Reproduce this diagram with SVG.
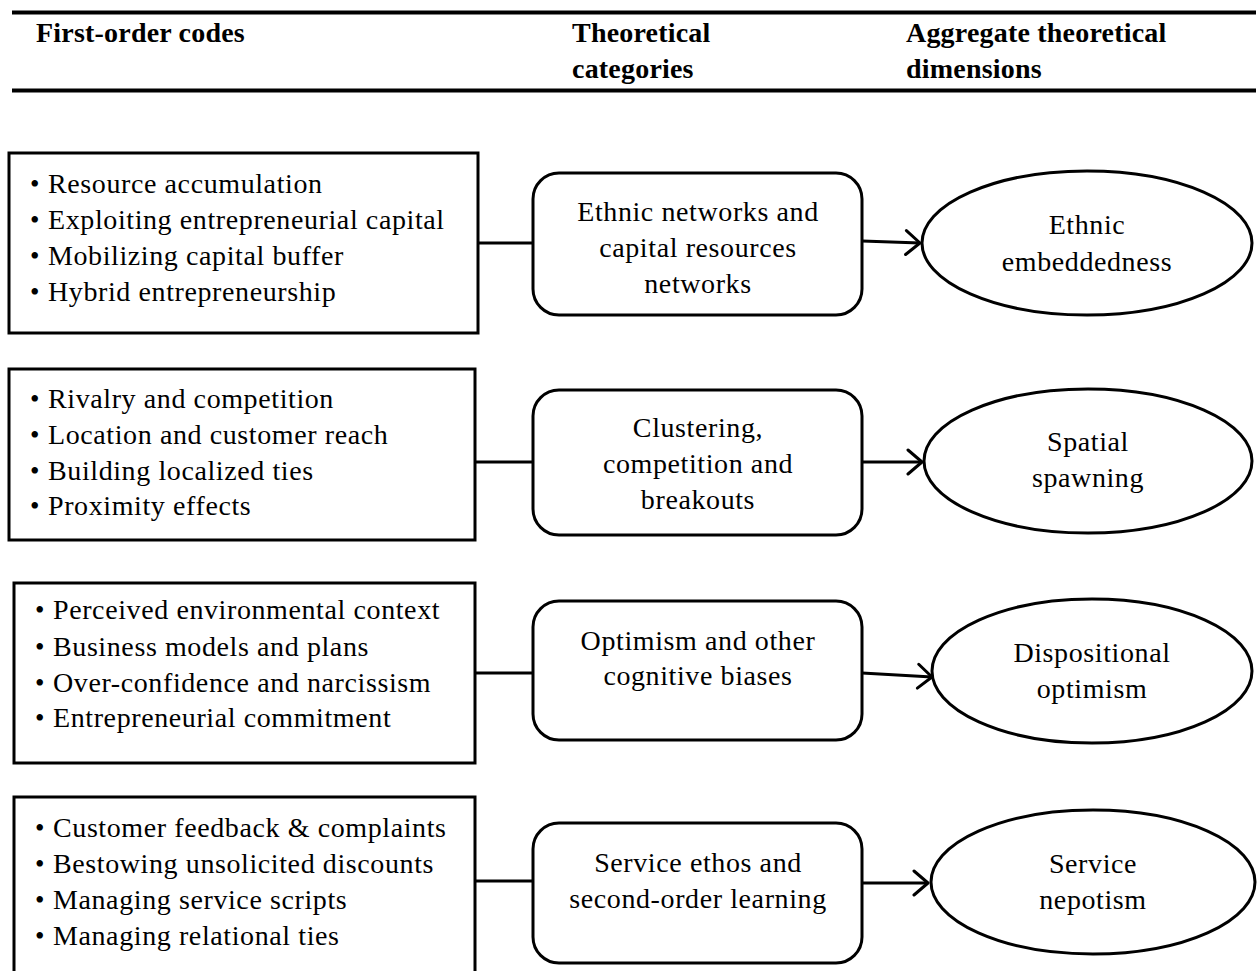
<svg xmlns="http://www.w3.org/2000/svg" width="1258" height="971" viewBox="0 0 1258 971">
<style>
text{font-family:"Liberation Serif","Times New Roman",serif;font-size:28px;letter-spacing:0.6px;fill:#000}
.h{font-weight:bold;font-size:28px;letter-spacing:0.2px}
.c{text-anchor:middle}
.box{fill:#fff;stroke:#000;stroke-width:3}
.rr{fill:#fff;stroke:#000;stroke-width:3}
.el{fill:#fff;stroke:#000;stroke-width:3}
.ln{stroke:#000;stroke-width:3;fill:none}
.rule{stroke:#000;stroke-width:4}
.b{font-size:27px}
</style>
<defs>
<marker id="ah" markerUnits="userSpaceOnUse" markerWidth="20" markerHeight="28" refX="17" refY="14" orient="auto">
<path d="M3,2 L17,14 L3,26" fill="none" stroke="#000" stroke-width="3" stroke-linecap="round" stroke-linejoin="round"/>
</marker>
</defs>
<rect width="1258" height="971" fill="#fff"/>
<g id="header">
<line class="rule" x1="12" y1="12.5" x2="1256" y2="12.5"/>
<line class="rule" x1="12" y1="90.5" x2="1256" y2="90.5"/>
<text class="h" x="36" y="42">First-order codes</text>
<text class="h" x="572" y="42">Theoretical</text>
<text class="h" x="572" y="78">categories</text>
<text class="h" x="906" y="42">Aggregate theoretical</text>
<text class="h" x="906" y="78">dimensions</text>
</g>
<g id="connectors">
<line class="ln" x1="478" y1="243" x2="533" y2="243"/>
<line class="ln" x1="862" y1="241" x2="920" y2="243" marker-end="url(#ah)"/>
<line class="ln" x1="475" y1="462" x2="533" y2="462"/>
<line class="ln" x1="862" y1="462" x2="922" y2="462" marker-end="url(#ah)"/>
<line class="ln" x1="475" y1="673" x2="533" y2="673"/>
<line class="ln" x1="862" y1="673" x2="932" y2="677" marker-end="url(#ah)"/>
<line class="ln" x1="475" y1="881" x2="533" y2="881"/>
<line class="ln" x1="862" y1="883" x2="928" y2="883" marker-end="url(#ah)"/>
</g>
<g id="codes1">
<rect class="box" x="9" y="153" width="469" height="180"/>
<text x="30" y="193"><tspan class="b">•</tspan><tspan x="48">Resource accumulation</tspan></text>
<text x="30" y="229"><tspan class="b">•</tspan><tspan x="48">Exploiting entrepreneurial capital</tspan></text>
<text x="30" y="265"><tspan class="b">•</tspan><tspan x="48">Mobilizing capital buffer</tspan></text>
<text x="30" y="301"><tspan class="b">•</tspan><tspan x="48">Hybrid entrepreneurship</tspan></text>
</g>
<g id="cat1">
<rect class="rr" x="533" y="173" width="329" height="142" rx="26"/>
<text class="c" x="698" y="221">Ethnic networks and</text>
<text class="c" x="698" y="257">capital resources</text>
<text class="c" x="698" y="293">networks</text>
</g>
<g id="dim1">
<ellipse class="el" cx="1087" cy="243" rx="165" ry="72"/>
<text class="c" x="1087" y="234">Ethnic</text>
<text class="c" x="1087" y="271">embeddedness</text>
</g>
<g id="codes2">
<rect class="box" x="9" y="369" width="466" height="171"/>
<text x="30" y="408"><tspan class="b">•</tspan><tspan x="48">Rivalry and competition</tspan></text>
<text x="30" y="444"><tspan class="b">•</tspan><tspan x="48">Location and customer reach</tspan></text>
<text x="30" y="480"><tspan class="b">•</tspan><tspan x="48">Building localized ties</tspan></text>
<text x="30" y="515"><tspan class="b">•</tspan><tspan x="48">Proximity effects</tspan></text>
</g>
<g id="cat2">
<rect class="rr" x="533" y="390" width="329" height="145" rx="26"/>
<text class="c" x="698" y="437">Clustering,</text>
<text class="c" x="698" y="473">competition and</text>
<text class="c" x="698" y="509">breakouts</text>
</g>
<g id="dim2">
<ellipse class="el" cx="1088" cy="461" rx="164" ry="72"/>
<text class="c" x="1088" y="451">Spatial</text>
<text class="c" x="1088" y="487">spawning</text>
</g>
<g id="codes3">
<rect class="box" x="14" y="583" width="461" height="180"/>
<text x="35" y="619"><tspan class="b">•</tspan><tspan x="53">Perceived environmental context</tspan></text>
<text x="35" y="656"><tspan class="b">•</tspan><tspan x="53">Business models and plans</tspan></text>
<text x="35" y="692"><tspan class="b">•</tspan><tspan x="53">Over-confidence and narcissism</tspan></text>
<text x="35" y="727"><tspan class="b">•</tspan><tspan x="53">Entrepreneurial commitment</tspan></text>
</g>
<g id="cat3">
<rect class="rr" x="533" y="601" width="329" height="139" rx="26"/>
<text class="c" x="698" y="650">Optimism and other</text>
<text class="c" x="698" y="685">cognitive biases</text>
</g>
<g id="dim3">
<ellipse class="el" cx="1092" cy="671" rx="160" ry="72"/>
<text class="c" x="1092" y="662">Dispositional</text>
<text class="c" x="1092" y="698">optimism</text>
</g>
<g id="codes4">
<rect class="box" x="14" y="797" width="461" height="180"/>
<text x="35" y="837"><tspan class="b">•</tspan><tspan x="53">Customer feedback &amp; complaints</tspan></text>
<text x="35" y="873"><tspan class="b">•</tspan><tspan x="53">Bestowing unsolicited discounts</tspan></text>
<text x="35" y="909"><tspan class="b">•</tspan><tspan x="53">Managing service scripts</tspan></text>
<text x="35" y="945"><tspan class="b">•</tspan><tspan x="53">Managing relational ties</tspan></text>
</g>
<g id="cat4">
<rect class="rr" x="533" y="823" width="329" height="140" rx="26"/>
<text class="c" x="698" y="872">Service ethos and</text>
<text class="c" x="698" y="908">second-order learning</text>
</g>
<g id="dim4">
<ellipse class="el" cx="1093" cy="882" rx="162" ry="72"/>
<text class="c" x="1093" y="873">Service</text>
<text class="c" x="1093" y="909">nepotism</text>
</g>
</svg>
